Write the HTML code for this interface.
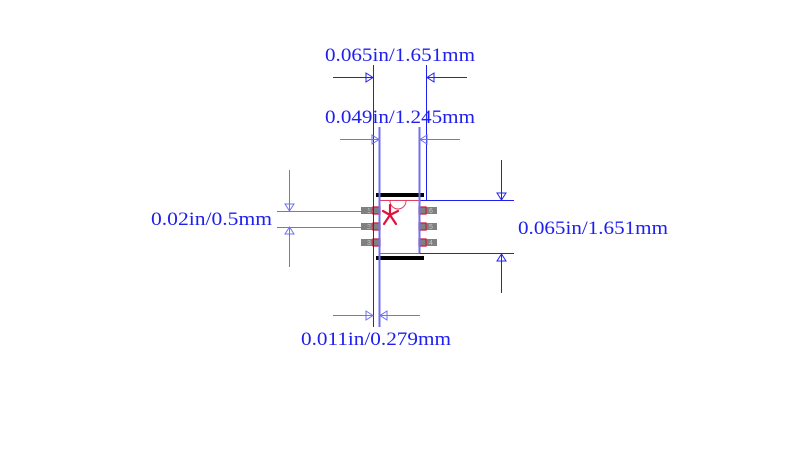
<!DOCTYPE html>
<html><head><meta charset="utf-8"><style>
html,body{margin:0;padding:0;background:#fff;}
svg{display:block;}
text.lbl{font-family:"Liberation Serif","DejaVu Serif",serif;font-size:19px;fill:#2020ee;}
text.pn{font-family:"Liberation Sans",sans-serif;font-size:7px;fill:#c8c8c8;}
</style></head><body>
<svg width="800" height="458" viewBox="0 0 800 458" xmlns="http://www.w3.org/2000/svg">
<!-- pads -->
<g fill="#808080">
<rect x="361" y="207" width="19" height="7"/><rect x="361" y="223" width="19" height="7"/><rect x="361" y="239" width="19" height="7"/>
<rect x="419" y="207" width="18" height="7"/><rect x="419" y="223" width="18" height="7"/><rect x="419" y="239" width="18" height="7"/>
</g>
<g fill="none" stroke="#d02040" stroke-width="1.3">
<rect x="373" y="207" width="7" height="7"/><rect x="373" y="223" width="7" height="7"/><rect x="373" y="239" width="7" height="7"/>
<rect x="419" y="207" width="7" height="7"/><rect x="419" y="223" width="7" height="7"/><rect x="419" y="239" width="7" height="7"/>
</g>
<text class="pn" x="367" y="213">1</text><text class="pn" x="367" y="229">2</text><text class="pn" x="367" y="245">3</text>
<text class="pn" x="429" y="213">6</text><text class="pn" x="429" y="229">5</text><text class="pn" x="429" y="245">4</text>
<!-- body outline -->
<rect x="379.5" y="200.5" width="40" height="53" fill="none" stroke="#e04060" stroke-width="1"/>
<path d="M390 201 A8 8 0 0 0 406 201" fill="none" stroke="#e04060" stroke-width="1"/>
<g stroke="#e0103a" stroke-width="2.2" stroke-linecap="round">
<line x1="390" y1="205" x2="390" y2="215"/>
<line x1="390" y1="215" x2="384" y2="224"/>
<line x1="390" y1="215" x2="396" y2="224"/>
<line x1="390" y1="215" x2="383" y2="211"/>
<line x1="390" y1="215" x2="398" y2="211"/>
</g>
<!-- silk bars -->
<rect x="376" y="193" width="48" height="4" fill="#000"/>
<rect x="376" y="256" width="48" height="4" fill="#000"/>
<!-- dark blue lines -->
<g stroke="#2020ee" stroke-width="1" fill="none">
<line x1="373.5" y1="65" x2="373.5" y2="327"/>
<line x1="426.5" y1="65" x2="426.5" y2="200"/>
<line x1="420" y1="200.5" x2="514" y2="200.5"/>
<line x1="420" y1="253.5" x2="514" y2="253.5"/>
<line x1="333" y1="77.5" x2="373" y2="77.5"/>
<line x1="427" y1="77.5" x2="467" y2="77.5"/>
<path d="M366 73 L373 77.5 L366 82 Z"/>
<path d="M434 73 L427 77.5 L434 82 Z"/>
<line x1="501.5" y1="160" x2="501.5" y2="200"/>
<line x1="501.5" y1="253" x2="501.5" y2="293"/>
<path d="M497 193 L501.5 200 L506 193 Z"/>
<path d="M497 261 L501.5 254 L506 261 Z"/>
</g>
<!-- light blue lines -->
<g stroke="#7070f0" stroke-width="1" fill="none">
<line x1="379.5" y1="127" x2="379.5" y2="327" stroke-width="2"/>
<line x1="419.5" y1="127" x2="419.5" y2="253" stroke-width="2"/>
<line x1="340" y1="139.5" x2="379" y2="139.5"/>
<line x1="420" y1="139.5" x2="460" y2="139.5"/>
<path d="M372 135 L379 139.5 L372 144 Z"/>
<path d="M427 135 L420 139.5 L427 144 Z"/>
<line x1="333" y1="315.5" x2="373" y2="315.5"/>
<line x1="380" y1="315.5" x2="420" y2="315.5"/>
<path d="M366 311 L373 315.5 L366 320 Z"/>
<path d="M387 311 L380 315.5 L387 320 Z"/>
<line x1="277" y1="211.5" x2="373" y2="211.5"/>
<line x1="277" y1="227.5" x2="373" y2="227.5"/>
<line x1="289.5" y1="170" x2="289.5" y2="211"/>
<line x1="289.5" y1="227" x2="289.5" y2="267"/>
<path d="M285 204 L289.5 211 L294 204 Z"/>
<path d="M285 234 L289.5 227 L294 234 Z"/>
</g>
<!-- labels -->
<text class="lbl" x="325" y="61" textLength="150" lengthAdjust="spacingAndGlyphs">0.065in/1.651mm</text>
<text class="lbl" x="325" y="123" textLength="150" lengthAdjust="spacingAndGlyphs">0.049in/1.245mm</text>
<text class="lbl" x="151" y="225" textLength="121" lengthAdjust="spacingAndGlyphs">0.02in/0.5mm</text>
<text class="lbl" x="518" y="234" textLength="150" lengthAdjust="spacingAndGlyphs">0.065in/1.651mm</text>
<text class="lbl" x="301" y="345" textLength="150" lengthAdjust="spacingAndGlyphs">0.011in/0.279mm</text>
</svg>
</body></html>
